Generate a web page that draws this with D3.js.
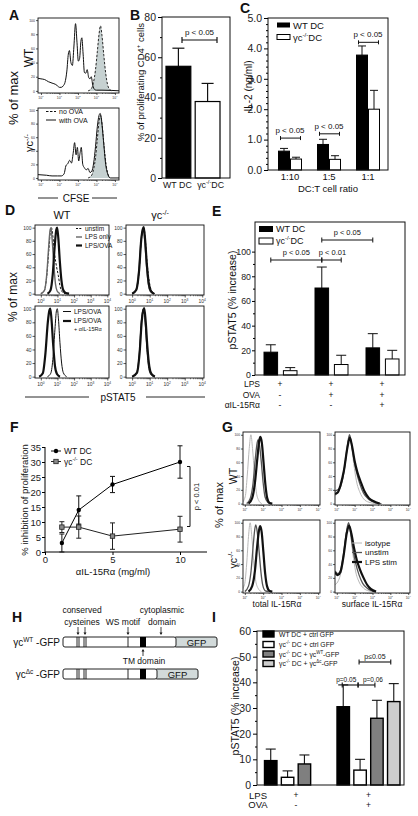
<!DOCTYPE html>
<html><head><meta charset="utf-8">
<script src="https://cdn.jsdelivr.net/npm/d3@7"></script>
<style>body{margin:0;background:#fff}svg{display:block;font-family:"Liberation Sans",Arial,sans-serif}</style>
</head><body><svg id="c" width="418" height="816"></svg>
<script>
// ================= DATA =================
// Panel A (CFSE histograms, x = log10 fluorescence, y = % of max)
const aWTwithOVA = [[-0.2,18],[0,17],[0.2,16],[0.4,13],[0.6,11],[0.8,9],[0.9,7],[1.0,5],[1.1,5],[1.2,7],[1.3,12],[1.4,28],[1.48,52],[1.54,57],[1.62,40],[1.7,36],[1.78,62],[1.87,95],[1.95,68],[2.02,42],[2.09,46],[2.16,70],[2.21,75],[2.28,52],[2.35,26],[2.42,25],[2.5,30],[2.58,19],[2.65,17],[2.72,20],[2.8,8],[2.9,2],[3.0,1],[3.3,1],[4.3,0]];
const aWTnoOVA = [[2.55,0],[2.72,3],[2.84,12],[2.95,30],[3.05,56],[3.14,80],[3.22,92],[3.3,78],[3.4,50],[3.5,25],[3.6,9],[3.72,2],[3.85,0]];
const aKOwithOVA = [[-0.2,5],[0.3,4],[0.6,3],[0.9,3],[1.1,3],[1.25,6],[1.35,18],[1.45,21],[1.55,26],[1.65,22],[1.74,36],[1.82,52],[1.9,34],[1.97,45],[2.04,25],[2.11,36],[2.18,45],[2.26,20],[2.35,15],[2.45,12],[2.55,14],[2.65,8],[2.75,10],[2.85,22],[2.95,46],[3.05,76],[3.14,92],[3.2,95],[3.28,84],[3.38,55],[3.5,20],[3.62,5],[3.75,0],[4.3,0]];
const aKOnoOVA = [[2.55,0],[2.72,3],[2.84,12],[2.95,30],[3.05,58],[3.15,85],[3.23,92],[3.32,75],[3.42,45],[3.52,20],[3.62,6],[3.74,0]];
// Panel B
const bCategories = ["WT", "KO"];
const bValues = [55.5, 38];
const bErrors = [9, 9];
// Panel C
const cRatios = ["1:10", "1:5", "1:1"];
const cWT = [0.62, 0.84, 3.78];
const cWTErr = [0.09, 0.17, 0.30];
const cKO = [0.36, 0.35, 2.0];
const cKOErr = [0.06, 0.12, 0.62];
const cPText = ["p < 0.05", "p < 0.05", "p < 0.05"];
const cPLevel = [1.05, 1.19, 4.2];
// Panel D (pSTAT5 histograms)
const dWTunstim = [[0.0,0],[0.2,4],[0.35,25],[0.48,65],[0.58,95],[0.64,100],[0.72,88],[0.82,62],[0.95,40],[1.05,28],[1.15,12],[1.28,3],[1.45,0]];
const dWTlps = [[0.0,0],[0.22,5],[0.36,30],[0.47,70],[0.56,97],[0.61,100],[0.68,82],[0.78,45],[0.88,15],[0.98,4],[1.15,0]];
const dWTlpsova = [[0.4,0],[0.58,5],[0.72,30],[0.83,70],[0.93,97],[0.98,100],[1.05,85],[1.14,50],[1.24,20],[1.34,6],[1.5,1],[1.7,0]];
const dWTb_lpsova = [[0.4,0],[0.6,5],[0.74,30],[0.85,70],[0.94,97],[0.99,100],[1.06,85],[1.15,50],[1.25,20],[1.35,6],[1.55,0]];
const dWTb_anti = [[-0.1,0],[0.12,5],[0.28,35],[0.42,80],[0.52,98],[0.57,100],[0.64,85],[0.74,48],[0.85,16],[0.97,4],[1.15,0]];
const dKOunstim = [[0.0,0],[0.25,6],[0.4,35],[0.52,80],[0.62,98],[0.67,100],[0.75,82],[0.86,45],[0.98,18],[1.1,5],[1.3,0]];
const dKOlps = [[0.0,0],[0.22,5],[0.38,33],[0.5,78],[0.6,97],[0.65,100],[0.72,80],[0.82,42],[0.93,14],[1.05,3],[1.25,0]];
const dKOlpsova = [[0.0,0],[0.24,6],[0.4,36],[0.52,82],[0.61,98],[0.66,101],[0.74,82],[0.84,44],[0.95,15],[1.07,4],[1.25,0]];
const dKOb_lpsova = [[0.0,0],[0.25,5],[0.4,32],[0.52,80],[0.61,98],[0.66,100],[0.74,80],[0.84,40],[0.95,12],[1.07,3],[1.25,0]];
const dKOb_anti = [[0.0,0],[0.28,6],[0.43,36],[0.55,82],[0.64,98],[0.69,101],[0.77,82],[0.87,44],[0.98,15],[1.1,4],[1.3,0]];
// Panel E
const eWT = [18.5, 70.5, 22];
const eWTErr = [6, 17, 11.5];
const eKO = [3.5, 8.5, 13];
const eKOErr = [2.5, 7.5, 7];
const eLPS = ["+", "+", "+"];
const eOVA = ["-", "+", "+"];
const eAnti = ["-", "-", "+"];
// Panel F
const fDose = [1.25, 2.5, 5, 10];
const fWT = [3, 14, 22.5, 30];
const fWTErr = [3, 4.7, 2.7, 5.4];
const fKO = [8.3, 8.3, 5.3, 7.6];
const fKOErr = [1.8, 3.7, 4.4, 4.3];
const fTicksX = [0, 5, 10];
const fTicksY = [0, 5, 10, 15, 20, 25, 30, 35];
// Panel G (IL-15Ra histograms)
const gTotWTiso = [[-0.2,0],[0.02,10],[0.13,40],[0.24,80],[0.33,100],[0.42,80],[0.52,45],[0.62,18],[0.75,5],[0.92,0]];
const gTotWTun = [[0.1,0],[0.3,8],[0.45,30],[0.57,65],[0.67,88],[0.72,93],[0.8,85],[0.9,60],[1.0,30],[1.1,10],[1.25,2],[1.4,0]];
const gTotWTlps = [[0.2,0],[0.4,8],[0.55,30],[0.68,65],[0.79,92],[0.85,97],[0.93,88],[1.02,60],[1.12,28],[1.22,8],[1.35,1],[1.5,0]];
const gTotKOiso = [[-0.25,0],[-0.02,10],[0.1,40],[0.2,80],[0.29,100],[0.38,80],[0.48,45],[0.58,18],[0.72,5],[0.9,0]];
const gTotKOun = [[0.0,0],[0.2,8],[0.34,30],[0.46,68],[0.55,92],[0.6,97],[0.68,86],[0.78,58],[0.88,28],[0.98,9],[1.12,1],[1.3,0]];
const gTotKOlps = [[0.2,0],[0.4,8],[0.55,30],[0.67,65],[0.78,90],[0.84,95],[0.92,86],[1.01,58],[1.11,26],[1.21,8],[1.35,1],[1.5,0]];
const gSurWTiso = [[-0.1,12],[0.05,15],[0.2,25],[0.4,50],[0.58,85],[0.7,98],[0.8,88],[0.95,58],[1.1,33],[1.3,16],[1.5,7],[1.8,2],[2.2,0]];
const gSurWTun = [[-0.1,18],[0.05,20],[0.2,24],[0.4,46],[0.58,80],[0.71,100],[0.82,88],[0.95,66],[1.1,46],[1.3,28],[1.5,15],[1.8,6],[2.2,1],[2.5,0]];
const gSurWTlps = [[-0.1,14],[0.05,16],[0.2,26],[0.4,48],[0.6,82],[0.73,96],[0.85,84],[1.0,62],[1.15,46],[1.35,31],[1.55,18],[1.8,8],[2.1,3],[2.4,0]];
const gSurKOiso = [[-0.1,10],[0.05,14],[0.2,24],[0.4,52],[0.55,88],[0.66,98],[0.76,86],[0.9,55],[1.05,30],[1.25,14],[1.5,5],[1.8,1],[2.1,0]];
const gSurKOun = [[-0.1,30],[0.05,26],[0.2,30],[0.38,55],[0.55,88],[0.66,100],[0.77,86],[0.9,62],[1.05,42],[1.25,24],[1.45,12],[1.75,4],[2.1,0]];
const gSurKOlps = [[-0.1,28],[0.05,24],[0.2,28],[0.38,52],[0.56,85],[0.69,96],[0.82,84],[0.96,64],[1.12,46],[1.3,32],[1.5,20],[1.7,10],[1.9,4],[2.2,0]];
// Panel H (construct map, arbitrary length units)
const hCysteines = [14, 16, 21, 23];
const hWSmotif = 65;
const hTM = [77, 83];
const hWTend = 113;
const hDCend = 94;
const hGFPlen = 41;
// Panel I
const iSeries = ["WT DC + ctrl GFP", "KO DC + ctrl GFP", "KO DC + WT-GFP", "KO DC + dc-GFP"];
const iValues = [[9.5, 3, 8.2, null], [30.5, 5.8, 26, 32.5]];
const iErrors = [[4.5, 2.5, 3.5, null], [8.5, 4.2, 7, 7]];
const iLPS = ["+", "+"];
const iOVA = ["-", "+"];
const iTicksY = [0, 10, 20, 30, 40, 50, 60];

// ================= HELPERS =================
const svg = d3.select('#c');
function T(x, y, parts, o = {}) {
  const fs = o.fs || 9;
  const t = svg.append('text').attr('x', x).attr('y', y).attr('font-size', fs)
    .attr('text-anchor', o.anchor || 'start').attr('fill', o.fill || '#111');
  if (o.bold) t.attr('font-weight', 'bold');
  if (o.rot) t.attr('transform', `rotate(${o.rot},${x},${y})`);
  if (typeof parts === 'string') parts = [[parts]];
  let shift = 0;
  parts.forEach(([s, k]) => {
    const ts = t.append('tspan').text(s);
    let target = 0;
    if (k === 'sup') { ts.attr('font-size', fs * 0.65); target = -fs * 0.4; }
    if (k === 'sub') { ts.attr('font-size', fs * 0.65); target = fs * 0.2; }
    if (target !== shift) { ts.attr('dy', target - shift); shift = target; }
  });
  return t;
}
function L(x1, y1, x2, y2, o = {}) {
  return svg.append('line').attr('x1', x1).attr('y1', y1).attr('x2', x2).attr('y2', y2)
    .attr('stroke', o.c || '#111').attr('stroke-width', o.w || 1).attr('stroke-dasharray', o.dash || null);
}
const KO = [['γc'], ['-/-', 'sup']];
let clipId = 0;
function hist(o) {
  const x = d3.scaleLinear().domain(o.dom).range([o.x0, o.x0 + o.w]);
  const y = d3.scaleLinear().domain(o.ydom || [-2, 104]).range([o.y0 + o.h, o.y0]);
  const id = 'clip' + (clipId++);
  svg.append('clipPath').attr('id', id).append('rect').attr('x', o.x0).attr('y', o.y0).attr('width', o.w).attr('height', o.h);
  const g = svg.append('g').attr('clip-path', `url(#${id})`);
  o.curves.forEach(c => {
    const ln = d3.line().x(d => x(d[0])).y(d => y(d[1])).curve(d3.curveMonotoneX);
    if (c.fill) {
      const ar = d3.area().x(d => x(d[0])).y0(y(0)).y1(d => y(d[1])).curve(d3.curveMonotoneX);
      g.append('path').attr('d', ar(c.data)).attr('fill', c.fill);
    }
    g.append('path').attr('d', ln(c.data)).attr('fill', 'none').attr('stroke', c.color || '#111')
      .attr('stroke-width', c.width || 1).attr('stroke-dasharray', c.dash || null).attr('stroke-linejoin', 'round');
  });
  svg.append('rect').attr('x', o.x0).attr('y', o.y0).attr('width', o.w).attr('height', o.h)
    .attr('fill', 'none').attr('stroke', '#111').attr('stroke-width', 0.9);
  const fs = o.fs, tl = o.tl;
  const ya = d3.axisLeft(y).tickValues([0, 20, 40, 60, 80, 100]).tickSize(tl).tickPadding(1);
  const gy = svg.append('g').attr('transform', `translate(${o.x0},0)`).call(ya);
  gy.select('.domain').remove();
  gy.selectAll('text').attr('font-size', fs).attr('font-family', 'inherit').attr('fill', '#333');
  gy.selectAll('line').attr('stroke', '#111').attr('stroke-width', 0.7);
  const majors = [0, 1, 2, 3, 4];
  const minors = [];
  majors.slice(0, 4).forEach(m => [2, 3, 4, 5, 6, 7, 8, 9].forEach(k => minors.push(m + Math.log10(k))));
  const xa = d3.axisBottom(x).tickValues(majors).tickSize(tl).tickFormat('');
  const gx = svg.append('g').attr('transform', `translate(0,${o.y0 + o.h})`).call(xa);
  gx.select('.domain').remove();
  gx.selectAll('line').attr('stroke', '#111').attr('stroke-width', 0.7);
  const xm = d3.axisBottom(x).tickValues(minors).tickSize(tl * 0.5).tickFormat('');
  const gm = svg.append('g').attr('transform', `translate(0,${o.y0 + o.h})`).call(xm);
  gm.select('.domain').remove();
  gm.selectAll('line').attr('stroke', '#111').attr('stroke-width', 0.5);
  majors.forEach(m => T(x(m), o.y0 + o.h + tl + fs * 1.1, [['10'], [String(m), 'sup']], { fs: fs, anchor: 'middle', fill: '#333' }));
  return { x, y };
}
function errBar(cx, yTop, yErr, hw, w = 1) {
  L(cx, yTop, cx, yErr, { w });
  L(cx - hw, yErr, cx + hw, yErr, { w });
}
function bracket(x1, x2, y, tick = 2.5, w = 1) {
  L(x1, y, x2, y, { w });
  L(x1, y - tick, x1, y + tick, { w });
  L(x2, y - tick, x2, y + tick, { w });
}

// ================= PANEL A =================
T(9, 20, 'A', { fs: 14, bold: true });
hist({ x0: 38, y0: 18, w: 81, h: 75, dom: [-0.16, 4.22], ydom: [-3, 103], fs: 3.5, tl: 2,
  curves: [{ data: aWTnoOVA, fill: '#c6d1d1', dash: '2.5,1.5', width: 0.9 }, { data: aWTwithOVA, width: 1 }] });
hist({ x0: 38, y0: 108, w: 81, h: 72, dom: [-0.16, 4.22], ydom: [-3, 103], fs: 3.5, tl: 2,
  curves: [{ data: aKOnoOVA, fill: '#c6d1d1', dash: '2.5,1.5', width: 0.9 }, { data: aKOwithOVA, width: 1 }] });
L(46, 111.5, 56, 111.5, { dash: '2.5,1.5' });
T(59, 114, 'no OVA', { fs: 7 });
L(46, 120, 56, 120);
T(59, 122.5, 'with OVA', { fs: 7 });
T(18, 98, '% of max', { fs: 13, rot: -90, anchor: 'middle' });
T(33, 58, 'WT', { fs: 12, rot: -90, anchor: 'middle' });
T(33, 143, KO, { fs: 11, rot: -90, anchor: 'middle' });
L(38, 198, 58, 198, { w: 0.9 }); L(92, 198, 117, 198, { w: 0.9 });
T(76, 201.5, 'CFSE', { fs: 10, anchor: 'middle' });

// ================= PANEL B =================
T(130, 20, 'B', { fs: 14, bold: true });
{
  const y = d3.scaleLinear().domain([0, 80]).range([178, 17]);
  const x = d3.scaleBand().domain(bCategories).range([166, 220]).paddingInner(0.15);
  const fills = ['#000', '#fff'];
  bCategories.forEach((c, i) => {
    errBar(x(c) + x.bandwidth() / 2, y(bValues[i]), y(bValues[i] + bErrors[i]), 6, 1.2);
    svg.append('rect').attr('x', x(c)).attr('y', y(bValues[i])).attr('width', x.bandwidth())
      .attr('height', y(0) - y(bValues[i])).attr('fill', fills[i]).attr('stroke', '#000').attr('stroke-width', 1.2);
  });
  svg.append('rect').attr('x', 162).attr('y', 17).attr('width', 68).attr('height', 161).attr('fill', 'none').attr('stroke', '#111').attr('stroke-width', 1);
  const ya = d3.axisLeft(y).tickValues([0, 20, 40, 60, 80]).tickSize(4).tickPadding(2);
  const gy = svg.append('g').attr('transform', 'translate(162,0)').call(ya);
  gy.select('.domain').remove();
  gy.selectAll('text').attr('font-size', 10.5).attr('font-family', 'inherit').attr('fill', '#222');
  const ym = d3.axisLeft(y).tickValues([10, 30, 50, 70]).tickSize(2).tickFormat('');
  const gm = svg.append('g').attr('transform', 'translate(162,0)').call(ym); gm.select('.domain').remove();
  bracket(182, 217, 40, 3, 1.2);
  T(199.5, 35, 'p < 0.05', { fs: 8, anchor: 'middle' });
  T(x('WT') + x.bandwidth() / 2 - 1, 188, 'WT DC', { fs: 8.8, anchor: 'middle' });
  T(x('KO') + x.bandwidth() / 2 + 3, 188, [['γc'], ['-/-', 'sup'], ['DC']], { fs: 8.8, anchor: 'middle' });
  T(144, 82, [['% of proliferating CD4'], ['+', 'sup'], [' cells']], { fs: 9.5, rot: -90, anchor: 'middle' });
}

// ================= PANEL C =================
T(240, 13, 'C', { fs: 14, bold: true });
{
  const y = d3.scaleLinear().domain([0, 5]).range([170, 18]);
  const x = d3.scaleBand().domain(cRatios).range([270.5, 387.5]);
  cRatios.forEach((r, i) => {
    const wx = x(r) + 8, kx = x(r) + 20, bw = 11;
    [[wx, cWT[i], cWTErr[i], '#000'], [kx, cKO[i], cKOErr[i], '#fff']].forEach(([bx, v, e, f]) => {
      errBar(bx + bw / 2, y(v), y(v + e), 4, 1);
      svg.append('rect').attr('x', bx).attr('y', y(v)).attr('width', bw).attr('height', y(0) - y(v))
        .attr('fill', f).attr('stroke', '#000').attr('stroke-width', 1);
    });
    const by = y(cPLevel[i]);
    bracket(wx + 2, kx + bw - 1, by, 2, 1);
    T((wx + kx + bw) / 2, by - 5, cPText[i], { fs: 8, anchor: 'middle' });
    T(x(r) + x.bandwidth() / 2, 180, r, { fs: 9.5, anchor: 'middle' });
  });
  svg.append('rect').attr('x', 268).attr('y', 18).attr('width', 120).attr('height', 152).attr('fill', 'none').attr('stroke', '#111').attr('stroke-width', 1);
  const ya = d3.axisLeft(y).tickValues([0, 1, 2, 3, 4, 5]).tickSize(4).tickPadding(2);
  const gy = svg.append('g').attr('transform', 'translate(268,0)').call(ya);
  gy.select('.domain').remove();
  gy.selectAll('text').attr('font-size', 10.5).attr('font-family', 'inherit').attr('fill', '#222');
  const minorC = d3.range(0, 5, 0.2).filter(v => Math.abs(v - Math.round(v)) > 0.01);
  const gm = svg.append('g').attr('transform', 'translate(268,0)').call(d3.axisLeft(y).tickValues(minorC).tickSize(2).tickFormat(''));
  gm.select('.domain').remove();
  svg.append('rect').attr('x', 277).attr('y', 22.5).attr('width', 13).attr('height', 5).attr('fill', '#000');
  T(293, 28.5, 'WT DC', { fs: 9.5 });
  svg.append('rect').attr('x', 277).attr('y', 34.5).attr('width', 13).attr('height', 5).attr('fill', '#fff').attr('stroke', '#000');
  T(293, 40.5, [['γc'], ['-/-', 'sup'], ['DC']], { fs: 9.5 });
  T(328, 192, 'DC:T cell ratio', { fs: 9.5, anchor: 'middle' });
  T(252, 86, 'IL-2 (ng/ml)', { fs: 10, rot: -90, anchor: 'middle' });
}

// ================= PANEL D =================
T(5, 215, 'D', { fs: 14, bold: true });
T(62, 219, 'WT', { fs: 11, anchor: 'middle' });
T(160, 219, [['γc'], ['-/-', 'sup']], { fs: 11, anchor: 'middle' });
const dDom = [-0.35, 4.1];
hist({ x0: 35, y0: 225, w: 74, h: 70, dom: dDom, fs: 5, tl: 2.5,
  curves: [{ data: dWTunstim, dash: '2.5,1.5', width: 1 }, { data: dWTlps, color: '#666', width: 1.4 }, { data: dWTlpsova, width: 2.2 }] });
hist({ x0: 126, y0: 225, w: 78, h: 70, dom: dDom, fs: 5, tl: 2.5,
  curves: [{ data: dKOunstim, dash: '2.5,1.5', width: 1 }, { data: dKOlps, color: '#666', width: 1.4 }, { data: dKOlpsova, width: 2.2 }] });
hist({ x0: 35, y0: 306, w: 74, h: 72, dom: dDom, fs: 5, tl: 2.5,
  curves: [{ data: dWTb_lpsova, width: 1 }, { data: dWTb_anti, width: 2.2 }] });
hist({ x0: 126, y0: 306, w: 78, h: 72, dom: dDom, fs: 5, tl: 2.5,
  curves: [{ data: dKOb_lpsova, width: 1 }, { data: dKOb_anti, width: 2.2 }] });
L(76, 228.5, 82, 228.5, { dash: '2,1.3' }); T(85, 230.5, 'unstim', { fs: 6.5 });
L(76, 237, 82, 237, { c: '#666', w: 1.4 }); T(85, 239, 'LPS only', { fs: 6.5 });
L(76, 245.5, 82, 245.5, { w: 2.2 }); T(85, 247.5, 'LPS/OVA', { fs: 6.5 });
L(63, 311.5, 71, 311.5); T(74, 313.5, 'LPS/OVA', { fs: 6.5 });
L(63, 321, 71, 321, { w: 2.2 }); T(74, 323, 'LPS/OVA', { fs: 6.5 });
T(74, 331, '+ αIL-15Rα', { fs: 5.5 });
T(17, 297, '% of max', { fs: 12, rot: -90, anchor: 'middle' });
L(25, 397, 89, 397, { w: 0.9 }); L(146, 397, 205, 397, { w: 0.9 });
T(118, 401, 'pSTAT5', { fs: 10, anchor: 'middle' });

// ================= PANEL E =================
T(212, 216, 'E', { fs: 14, bold: true });
{
  const y = d3.scaleLinear().domain([0, 124]).range([375, 222]);
  const groups = [0, 1, 2];
  const x = d3.scaleBand().domain(groups).range([254.5, 407.5]);
  const sub = d3.scaleBand().domain(['WT', 'KO']).range([9.5, 42.5]).paddingInner(0.3);
  groups.forEach(i => {
    [['WT', eWT[i], eWTErr[i], '#000'], ['KO', eKO[i], eKOErr[i], '#fff']].forEach(([k, v, e, f]) => {
      const bx = x(i) + sub(k);
      errBar(bx + sub.bandwidth() / 2, y(v), y(v + e), 5, 1);
      svg.append('rect').attr('x', bx).attr('y', y(v)).attr('width', sub.bandwidth()).attr('height', y(0) - y(v))
        .attr('fill', f).attr('stroke', '#000').attr('stroke-width', 1);
    });
    const cx = x(i) + x.bandwidth() / 2;
    T(cx, 387, eLPS[i], { fs: 8.5, anchor: 'middle' });
    T(cx, 397.5, eOVA[i], { fs: 8.5, anchor: 'middle' });
    T(cx, 407.5, eAnti[i], { fs: 8.5, anchor: 'middle' });
  });
  svg.append('rect').attr('x', 255).attr('y', 222).attr('width', 150).attr('height', 153).attr('fill', 'none').attr('stroke', '#111').attr('stroke-width', 1);
  const gy = svg.append('g').attr('transform', 'translate(255,0)').call(d3.axisLeft(y).tickValues([0, 20, 40, 60, 80, 100]).tickSize(3).tickPadding(1));
  gy.select('.domain').remove();
  gy.selectAll('text').attr('font-size', 8.8).attr('font-family', 'inherit').attr('fill', '#222');
  const gm = svg.append('g').attr('transform', 'translate(255,0)').call(d3.axisLeft(y).tickValues([10, 30, 50, 70, 90]).tickSize(2).tickFormat(''));
  gm.select('.domain').remove();
  const wc = i => x(i) + sub('WT') + sub.bandwidth() / 2;
  const kc = i => x(i) + sub('KO') + sub.bandwidth() / 2;
  bracket(wc(0), wc(1), 260, 2.5, 1);
  bracket(wc(1), kc(1), 260, 2.5, 1);
  bracket(wc(1), wc(2), 240, 2.5, 1);
  T((wc(0) + wc(1)) / 2, 255, 'p < 0.05', { fs: 7.5, anchor: 'middle' });
  T((wc(1) + kc(1)) / 2 + 1, 255, 'p < 0.01', { fs: 7.5, anchor: 'middle' });
  T((wc(1) + wc(2)) / 2, 235, 'p < 0.05', { fs: 7.5, anchor: 'middle' });
  svg.append('rect').attr('x', 259).attr('y', 226).attr('width', 14).attr('height', 6).attr('fill', '#000');
  T(276, 232, 'WT DC', { fs: 9 });
  svg.append('rect').attr('x', 259).attr('y', 238).attr('width', 14).attr('height', 6).attr('fill', '#fff').attr('stroke', '#000');
  T(276, 244, [['γc'], ['-/-', 'sup'], ['DC']], { fs: 9 });
  T(260, 387, 'LPS', { fs: 8.5, anchor: 'end' });
  T(260, 397.5, 'OVA', { fs: 8.5, anchor: 'end' });
  T(260, 407.5, 'αIL-15Rα', { fs: 8.5, anchor: 'end' });
  T(236, 300, 'pSTAT5 (% increase)', { fs: 10.5, rot: -90, anchor: 'middle' });
}

// ================= PANEL F =================
T(10, 432, 'F', { fs: 14, bold: true });
{
  const x = d3.scaleLinear().domain([0, 12]).range([45, 207]);
  const y = d3.scaleLinear().domain([0, 35]).range([552, 447]);
  const gx = svg.append('g').attr('transform', 'translate(0,552)').call(d3.axisBottom(x).tickValues(fTicksX).tickSize(3).tickPadding(1));
  gx.selectAll('text').attr('font-size', 9.5).attr('font-family', 'inherit').attr('fill', '#222');
  gx.select('.domain').attr('d', `M45,0H207`);
  const gy = svg.append('g').attr('transform', 'translate(45,0)').call(d3.axisLeft(y).tickValues(fTicksY).tickSize(3).tickPadding(1));
  gy.selectAll('text').attr('font-size', 9.5).attr('font-family', 'inherit').attr('fill', '#222');
  gy.select('.domain').attr('d', `M0,447V552`);
  const ln = d3.line().x((d, i) => x(fDose[i])).y(d => y(d));
  svg.append('path').attr('d', ln(fKO)).attr('fill', 'none').attr('stroke', '#222').attr('stroke-width', 1);
  svg.append('path').attr('d', ln(fWT)).attr('fill', 'none').attr('stroke', '#000').attr('stroke-width', 1);
  fDose.forEach((d, i) => {
    const cx = x(d);
    L(cx, y(fKO[i] - fKOErr[i]), cx, y(fKO[i] + fKOErr[i]), { c: '#222' });
    L(cx - 2.5, y(fKO[i] - fKOErr[i]), cx + 2.5, y(fKO[i] - fKOErr[i]), { c: '#222' });
    L(cx - 2.5, y(fKO[i] + fKOErr[i]), cx + 2.5, y(fKO[i] + fKOErr[i]), { c: '#222' });
    svg.append('rect').attr('x', cx - 2.2).attr('y', y(fKO[i]) - 2.2).attr('width', 4.4).attr('height', 4.4)
      .attr('fill', '#8a8a8a').attr('stroke', '#222').attr('stroke-width', 0.8);
    L(cx, y(Math.max(0, fWT[i] - fWTErr[i])), cx, y(fWT[i] + fWTErr[i]));
    L(cx - 2.5, y(Math.max(0, fWT[i] - fWTErr[i])), cx + 2.5, y(Math.max(0, fWT[i] - fWTErr[i])));
    L(cx - 2.5, y(fWT[i] + fWTErr[i]), cx + 2.5, y(fWT[i] + fWTErr[i]));
    svg.append('circle').attr('cx', cx).attr('cy', y(fWT[i])).attr('r', 2.2).attr('fill', '#000');
  });
  L(51, 451, 61, 451); svg.append('circle').attr('cx', 56).attr('cy', 451).attr('r', 2.2).attr('fill', '#000');
  T(64, 454, 'WT DC', { fs: 8.5 });
  L(51, 461.5, 61, 461.5, { c: '#222' });
  svg.append('rect').attr('x', 53.8).attr('y', 459.3).attr('width', 4.4).attr('height', 4.4).attr('fill', '#8a8a8a').attr('stroke', '#222').attr('stroke-width', 0.8);
  T(64, 464.5, [['γc'], ['-/-', 'sup'], [' DC']], { fs: 8.5 });
  const py1 = y(28.5), py2 = y(8.5);
  L(190, py1, 190, py2); L(187, py1, 190, py1); L(187, py2, 190, py2);
  T(199, (py1 + py2) / 2, 'p < 0.01', { fs: 7.5, rot: -90, anchor: 'middle' });
  T(28, 500, '% inhibition of proliferation', { fs: 9.5, rot: -90, anchor: 'middle' });
  T(113, 575, 'αIL-15Rα (mg/ml)', { fs: 9.5, anchor: 'middle' });
}

// ================= PANEL G =================
T(222, 432, 'G', { fs: 14, bold: true });
const gDom = [-0.1, 4.1];
hist({ x0: 243, y0: 432, w: 77, h: 73, dom: gDom, fs: 3.3, tl: 2,
  curves: [{ data: gTotWTiso, color: '#b8b8b8', width: 1 }, { data: gTotWTun, color: '#555', width: 1.3 }, { data: gTotWTlps, width: 2.2 }] });
hist({ x0: 335, y0: 432, w: 75, h: 73, dom: gDom, fs: 3.3, tl: 2,
  curves: [{ data: gSurWTiso, color: '#b8b8b8', width: 1 }, { data: gSurWTun, color: '#555', width: 1.3 }, { data: gSurWTlps, width: 2.2 }] });
hist({ x0: 243, y0: 520, w: 77, h: 73, dom: gDom, fs: 3.3, tl: 2,
  curves: [{ data: gTotKOiso, color: '#b8b8b8', width: 1 }, { data: gTotKOun, color: '#555', width: 1.3 }, { data: gTotKOlps, width: 2.2 }] });
hist({ x0: 335, y0: 520, w: 75, h: 73, dom: gDom, fs: 3.3, tl: 2,
  curves: [{ data: gSurKOiso, color: '#b8b8b8', width: 1 }, { data: gSurKOun, color: '#555', width: 1.3 }, { data: gSurKOlps, width: 2.2 }] });
L(352, 543, 362, 543, { c: '#b8b8b8' }); T(365, 545.5, 'isotype', { fs: 8 });
L(352, 552.5, 362, 552.5, { c: '#555', w: 1.3 }); T(365, 555, 'unstim', { fs: 8 });
L(352, 562, 362, 562, { w: 2.2 }); T(365, 564.5, 'LPS stim', { fs: 8 });
T(223, 505, '% of max', { fs: 11, rot: -90, anchor: 'middle' });
T(237, 476, 'WT', { fs: 10.5, rot: -90, anchor: 'middle' });
T(237, 560, KO, { fs: 10.5, rot: -90, anchor: 'middle' });
T(277, 607, [['total IL-15R'], ['α']], { fs: 8.5, anchor: 'middle' });
T(372, 607, [['surface IL-15R'], ['α']], { fs: 8.5, anchor: 'middle' });

// ================= PANEL H =================
T(12, 622, 'H', { fs: 14, bold: true });
{
  const x = d3.scaleLinear().domain([0, 154]).range([63, 217]);
  function construct(y0, endAA) {
    const h = 10;
    svg.append('rect').attr('x', x(endAA) - 2).attr('y', y0).attr('width', x(endAA + hGFPlen) - x(endAA) + 2).attr('height', h)
      .attr('rx', 2).attr('fill', '#d2dada').attr('stroke', '#222').attr('stroke-width', 1);
    svg.append('rect').attr('x', x(0)).attr('y', y0).attr('width', x(endAA) - x(0)).attr('height', h)
      .attr('rx', 2).attr('fill', '#fff').attr('stroke', '#222').attr('stroke-width', 1);
    hCysteines.forEach(c => L(x(c), y0, x(c), y0 + h, { w: 0.9 }));
    L(x(hWSmotif), y0, x(hWSmotif), y0 + h, { w: 0.9 });
    svg.append('rect').attr('x', x(hTM[0])).attr('y', y0).attr('width', x(hTM[1]) - x(hTM[0])).attr('height', h).attr('fill', '#000');
    T((x(endAA) + x(endAA + hGFPlen)) / 2, y0 + 8.5, 'GFP', { fs: 9.5, anchor: 'middle' });
  }
  construct(637, hWTend);
  construct(669, hDCend);
  T(60, 646, [['γc'], ['WT', 'sup'], [' -GFP']], { fs: 10, anchor: 'end' });
  T(60, 678, [['γc'], ['Δc', 'sup'], [' -GFP']], { fs: 10, anchor: 'end' });
  T(82, 613, 'conserved', { fs: 8.5, anchor: 'middle' });
  T(82, 625, 'cysteines', { fs: 8.5, anchor: 'middle' });
  function arrowDown(xx, y1, y2) {
    L(xx, y1, xx, y2 - 2, { w: 0.8 });
    svg.append('path').attr('d', `M${xx - 1.5},${y2 - 2.5}L${xx + 1.5},${y2 - 2.5}L${xx},${y2}Z`).attr('fill', '#111');
  }
  arrowDown(x(hCysteines[0]) + 1, 627, 635);
  arrowDown(x(hCysteines[3]) - 1, 627, 635);
  T(123, 625, 'WS motif', { fs: 8.5, anchor: 'middle' });
  arrowDown(x(hWSmotif), 627, 635);
  T(162, 613, 'cytoplasmic', { fs: 8.5, anchor: 'middle' });
  T(162, 625, 'domain', { fs: 8.5, anchor: 'middle' });
  arrowDown(161, 627, 635);
  const tmx = (x(hTM[0]) + x(hTM[1])) / 2;
  L(tmx, 651, tmx, 656, { w: 0.8 });
  svg.append('path').attr('d', `M${tmx - 1.5},${651.5}L${tmx + 1.5},${651.5}L${tmx},${649}Z`).attr('fill', '#111');
  T(tmx + 1, 664, 'TM domain', { fs: 8.5, anchor: 'middle' });
}

// ================= PANEL I =================
T(212, 622, 'I', { fs: 14, bold: true });
{
  const y = d3.scaleLinear().domain([0, 60]).range([785, 631]);
  const x = d3.scaleBand().domain([0, 1]).range([259.75, 404.75]);
  const sub = d3.scaleBand().domain([0, 1, 2, 3]).range([4.75, 67.75]).paddingInner(0.26);
  const fills = ['#000', '#fff', '#7f7f7f', '#cdcdcd'];
  [0, 1].forEach(g => {
    iValues[g].forEach((v, s) => {
      if (v == null) return;
      const bx = x(g) + sub(s);
      errBar(bx + sub.bandwidth() / 2, y(v), y(v + iErrors[g][s]), 5, 1.1);
      svg.append('rect').attr('x', bx).attr('y', y(v)).attr('width', sub.bandwidth()).attr('height', y(0) - y(v))
        .attr('fill', fills[s]).attr('stroke', '#000').attr('stroke-width', 1.4);
    });
    const cx = x(g) + x.bandwidth() / 2;
    T(cx, 798, iLPS[g], { fs: 8.5, anchor: 'middle' });
    T(cx, 808, iOVA[g], { fs: 8.5, anchor: 'middle' });
  });
  svg.append('rect').attr('x', 257).attr('y', 631).attr('width', 147).attr('height', 154).attr('fill', 'none').attr('stroke', '#111').attr('stroke-width', 1);
  const gy = svg.append('g').attr('transform', 'translate(257,0)').call(d3.axisLeft(y).tickValues(iTicksY).tickSize(4).tickPadding(2));
  gy.select('.domain').remove();
  gy.selectAll('text').attr('font-size', 10.5).attr('font-family', 'inherit').attr('fill', '#222');
  const gm = svg.append('g').attr('transform', 'translate(257,0)').call(d3.axisLeft(y).tickValues([5, 15, 25, 35, 45, 55]).tickSize(2).tickFormat(''));
  gm.select('.domain').remove();
  const c = s => x(1) + sub(s) + sub.bandwidth() / 2;
  bracket(c(0) - 1, c(1) - 2, 685, 2.5, 1.1);
  bracket(c(1) - 2, c(2) - 2, 685, 2.5, 1.1);
  bracket(c(1) - 1, c(3) - 3, 662, 2.5, 1.1);
  T(c(0) + 3, 681.5, 'p=0.05', { fs: 6.5, anchor: 'middle' });
  T(c(2) - 4, 681.5, 'p=0.06', { fs: 6.5, anchor: 'middle' });
  T((c(1) + c(3)) / 2 - 2, 658.5, 'p≤0.05', { fs: 7, anchor: 'middle' });
  const legParts = [
    [['WT DC +  ctrl GFP']],
    [['γc'], ['-/-', 'sup'], [' DC +  ctrl GFP']],
    [['γc'], ['-/-', 'sup'], [' DC +  γc'], ['WT', 'sup'], ['-GFP']],
    [['γc'], ['-/-', 'sup'], [' DC +  γc'], ['Δc', 'sup'], ['-GFP']]
  ];
  const legY = [634, 644.5, 654, 663.5];
  iSeries.forEach((s, k) => {
    svg.append('rect').attr('x', 263).attr('y', legY[k] - 3).attr('width', 11).attr('height', 6)
      .attr('fill', fills[k]).attr('stroke', '#000').attr('stroke-width', 1.4);
    T(279, legY[k] + 2.5, legParts[k], { fs: 6.8 });
  });
  T(258, 798.5, 'LPS', { fs: 9.5, anchor: 'middle' });
  T(258, 808, 'OVA', { fs: 9.5, anchor: 'middle' });
  T(239, 706, 'pSTAT5 (% increase)', { fs: 10.5, rot: -90, anchor: 'middle' });
}
</script></body></html>
